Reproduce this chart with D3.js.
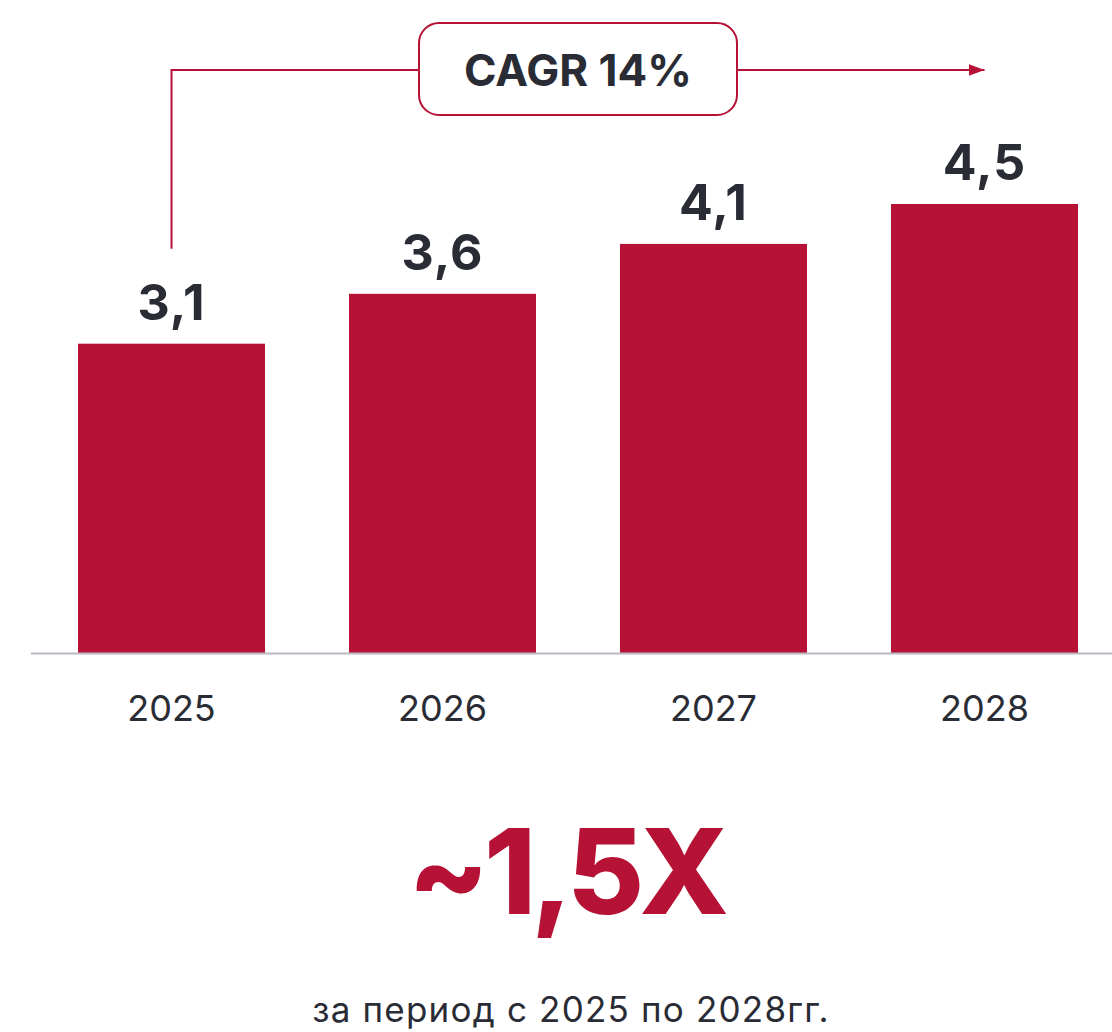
<!DOCTYPE html>
<html>
<head>
<meta charset="utf-8">
<script src="https://cdn.jsdelivr.net/npm/d3@7"></script>
<style>
  body { margin: 0; background: #fff; }
  svg { display: block; font-family: Inter, "Noto Sans", sans-serif; }
</style>
</head>
<body>
<div id="chart"></div>
<script>
const years = ['2025', '2026', '2027', '2028'];
const values = [3.1, 3.6, 4.1, 4.5];
const cagrLabel = 'CAGR 14%';
const bigLabel = '~1,5X';
const subLabel = 'за период с 2025 по 2028гг.';

const w = 1112;
const h = 1032;
const red = '#b51236';
const ink = '#2a2c35';

const svg = d3.select('#chart')
              .append('svg')
              .attr('width', w)
              .attr('height', h);

// scales: step 271, bar 187, first bar at x=78
const x = d3.scaleBand()
            .domain(years)
            .range([78, 78 + 271 * years.length - 84])
            .paddingInner(84 / 271)
            .paddingOuter(0);

const y = d3.scaleLinear()
            .domain([0, 4.5])
            .range([653, 204]);

const fmt = v => d3.format('.1f')(v).replace('.', ',');

// bars
svg.append('g')
   .selectAll('rect')
   .data(values)
   .enter()
   .append('rect')
   .attr('x', (d, i) => x(years[i]))
   .attr('y', d => y(d))
   .attr('width', x.bandwidth())
   .attr('height', d => y(0) - y(d))
   .attr('fill', red);

// baseline
svg.append('line')
   .attr('x1', 31)
   .attr('x2', w)
   .attr('y1', y(0) + 0.5)
   .attr('y2', y(0) + 0.5)
   .attr('stroke', '#b9b9c1')
   .attr('stroke-width', 2);

// value labels
svg.append('g')
   .selectAll('text')
   .data(values)
   .enter()
   .append('text')
   .attr('x', (d, i) => x(years[i]) + x.bandwidth() / 2)
   .attr('y', d => y(d) - 24)
   .attr('text-anchor', 'middle')
   .attr('font-size', 50)
   .attr('font-weight', 700)
   .attr('letter-spacing', 1)
   .attr('fill', ink)
   .text(d => fmt(d));

// year axis
const xAxis = d3.axisBottom(x).tickSize(0).tickPadding(0);
const axisG = svg.append('g')
   .attr('transform', `translate(0, ${y(0)})`)
   .call(xAxis);
axisG.select('.domain').remove();
axisG.selectAll('text')
   .attr('y', 68)
   .attr('dy', 0)
   .attr('font-size', 36)
   .attr('font-family', 'Inter, "Noto Sans", sans-serif')
   .attr('fill', ink);

// CAGR arrow
const x0 = x(years[0]) + x.bandwidth() / 2;
const x1 = x(years[years.length - 1]) + x.bandwidth() / 2;
const ay = 70;

svg.append('defs')
   .append('marker')
   .attr('id', 'arrow')
   .attr('viewBox', '0 0 10 10')
   .attr('refX', 10)
   .attr('refY', 5)
   .attr('markerWidth', 16)
   .attr('markerHeight', 12)
   .attr('markerUnits', 'userSpaceOnUse')
   .attr('orient', 'auto')
   .attr('preserveAspectRatio', 'none')
   .append('path')
   .attr('d', 'M0,0 L10,5 L0,10 Z')
   .attr('fill', red);

svg.append('path')
   .attr('d', `M${x0},${y(values[0]) - 95} V${ay} H${x1}`)
   .attr('fill', 'none')
   .attr('stroke', red)
   .attr('stroke-width', 2)
   .attr('marker-end', 'url(#arrow)');

const cx = (x0 + x1) / 2;
svg.append('rect')
   .attr('x', cx - 159)
   .attr('y', 23)
   .attr('width', 318)
   .attr('height', 92)
   .attr('rx', 20)
   .attr('fill', '#fff')
   .attr('stroke', red)
   .attr('stroke-width', 2);

svg.append('text')
   .attr('x', cx)
   .attr('y', 86)
   .attr('text-anchor', 'middle')
   .attr('font-size', 44)
   .attr('font-weight', 700)
   .attr('fill', ink)
   .text(cagrLabel);

// summary
svg.append('text')
   .attr('x', 566)
   .attr('y', 914)
   .attr('text-anchor', 'middle')
   .attr('font-size', 118)
   .attr('font-weight', 800)
   .attr('letter-spacing', -5)
   .attr('fill', red)
   .text(bigLabel);

svg.append('text')
   .attr('x', 571)
   .attr('y', 1022)
   .attr('text-anchor', 'middle')
   .attr('font-size', 35)
   .attr('letter-spacing', 1.2)
   .attr('fill', ink)
   .text(subLabel);
</script>
</body>
</html>
